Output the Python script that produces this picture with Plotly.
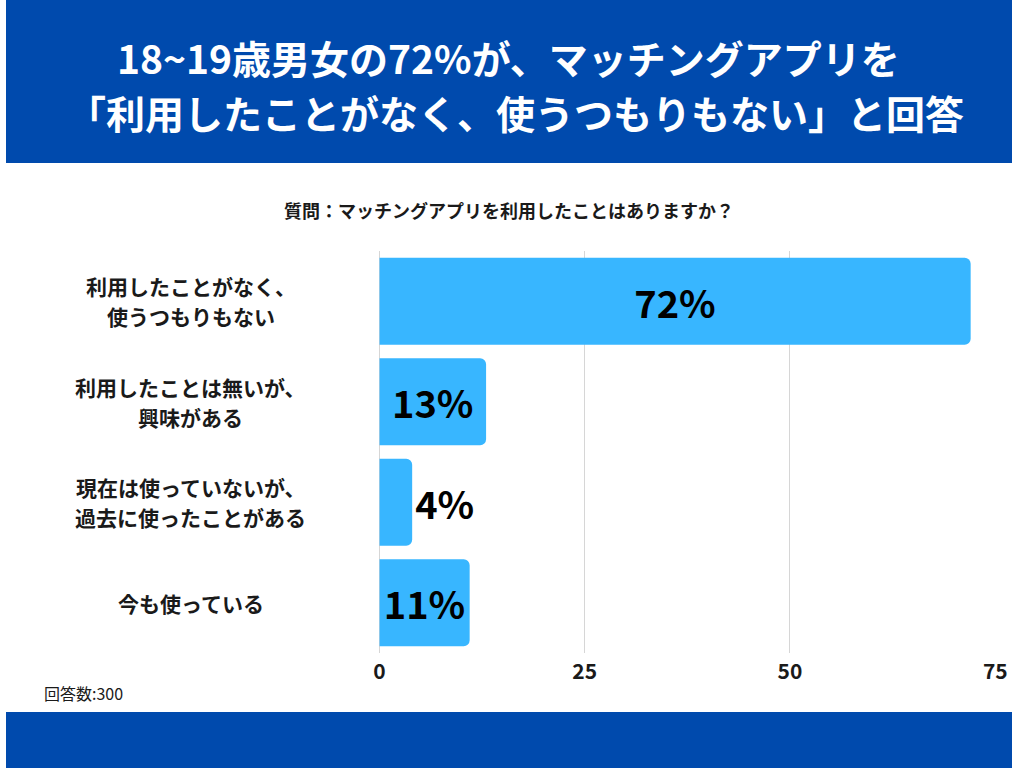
import plotly.graph_objects as go

categories = ["利用したことがなく、<br>使うつもりもない", "利用したことは無いが、<br>興味がある",
              "現在は使っていないが、<br>過去に使ったことがある", "今も使っている"]
values = [72, 13, 4, 11]
value_labels = ["72%", "13%", "4%", "11%"]
label_positions = ["inside", "inside", "outside", "inside"]
x_ticks = [0, 25, 50, 75]

title_lines = ["18~19歳男女の72%が、マッチングアプリを", "「利用したことがなく、使うつもりもない」と回答"]
subtitle = "質問：マッチングアプリを利用したことはありますか？"
footnote = "回答数:300"

FONT = "Noto Sans CJK JP"
W, H = 1024, 768
BLUE = "#004AAD"
BAR = "#38B6FF"
TXT = "#1a1a1a"

fig = go.Figure()
fig.add_trace(go.Bar(
    y=categories, x=values, orientation="h",
    marker=dict(color=BAR, line=dict(width=0)),
    text=value_labels, textposition=label_positions,
    insidetextanchor="middle",
    textfont=dict(family=FONT, size=38, color="#000000", weight="bold"),
    cliponaxis=False, hoverinfo="skip",
))

shapes = [
    dict(type="rect", xref="paper", yref="paper", x0=0, x1=1, y0=1 - 163 / H, y1=1,
         fillcolor=BLUE, line=dict(width=0), layer="below"),
    dict(type="rect", xref="paper", yref="paper", x0=0, x1=1, y0=0, y1=56 / H,
         fillcolor=BLUE, line=dict(width=0), layer="below"),
]

annotations = [
    dict(text=title_lines[0], xref="paper", yref="paper", x=511 / W, y=1 - 57 / H,
         xanchor="center", yanchor="middle", showarrow=False,
         font=dict(family=FONT, size=39, color="white", weight="bold")),
    dict(text=title_lines[1], xref="paper", yref="paper", x=519 / W, y=1 - 112 / H,
         xanchor="center", yanchor="middle", showarrow=False,
         font=dict(family=FONT, size=39, color="white", weight="bold")),
    dict(text=subtitle, xref="paper", yref="paper", x=0.5, y=1 - 210 / H,
         xanchor="center", yanchor="middle", showarrow=False,
         font=dict(family=FONT, size=18, color=TXT, weight="bold")),
    dict(text=footnote, xref="paper", yref="paper", x=37 / W, y=1 - 693 / H,
         xanchor="left", yanchor="middle", showarrow=False,
         font=dict(family=FONT, size=16, color=TXT)),
]
LINE_GAP = 30
for c in categories:
    lines = c.split("<br>")
    n = len(lines)
    for i, ln in enumerate(lines):
        shift = ((n - 1) / 2 - i) * LINE_GAP
        annotations.append(dict(text=ln, xref="paper", yref="y", x=188 / W, y=c,
                                yshift=shift, xanchor="center", yanchor="middle",
                                showarrow=False,
                                font=dict(family=FONT, size=21, color=TXT, weight="bold")))

fig.update_layout(
    width=W, height=H, autosize=False,
    margin=dict(l=0, r=0, t=0, b=0, pad=0),
    paper_bgcolor="white", plot_bgcolor="white",
    showlegend=False,
    bargap=0.135,
    barcornerradius=6,
    uniformtext=dict(minsize=38, mode="show"),
    shapes=shapes, annotations=annotations,
    font=dict(family=FONT),
    xaxis=dict(domain=[380 / W, 1007 / W], range=[0, 75], tickvals=x_ticks,
               showgrid=True, gridcolor="#d6d6d6", gridwidth=1,
               zeroline=True, zerolinecolor="#d6d6d6", zerolinewidth=1,
               showline=False, ticks="",
               tickfont=dict(family=FONT, size=21, color=TXT, weight="bold"),
               ticklabelstandoff=4, fixedrange=True),
    yaxis=dict(domain=[(H - 653) / H, (H - 251) / H], autorange="reversed",
               showticklabels=False, showgrid=False, zeroline=False, showline=False,
               fixedrange=True),
)

fig.write_html("out.html",
               config=dict(displayModeBar=False, responsive=False),
               post_script="document.body.style.margin='0';document.body.style.overflow='hidden';")
